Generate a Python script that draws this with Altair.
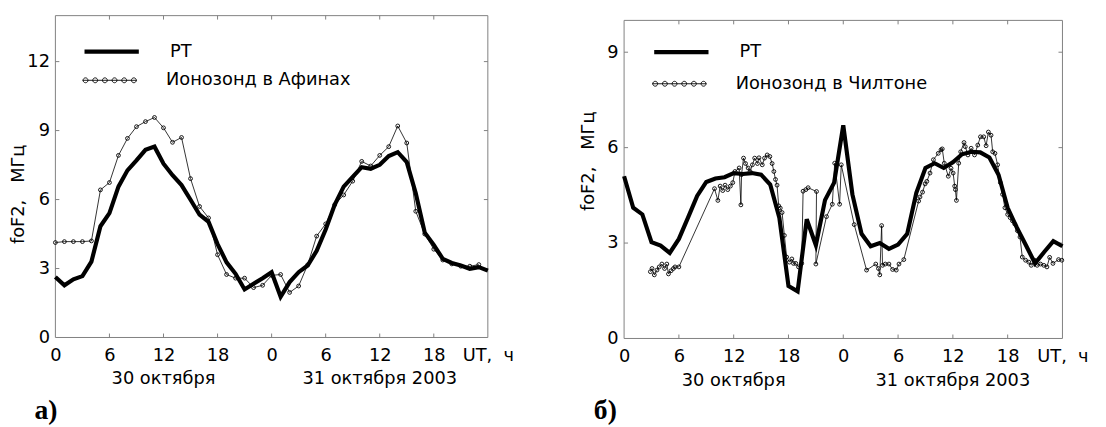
import altair as alt
import pandas as pd

# ---------------- data ----------------
HOURS = list(range(49))

# panel a: Athens
rt_a = [2.63, 2.27, 2.53, 2.67, 3.3, 4.84, 5.41, 6.56, 7.27, 7.7, 8.16, 8.3, 7.56, 7.06,
        6.63, 5.99, 5.34, 5.03, 4.06, 3.27, 2.77, 2.09, 2.34, 2.58, 2.84, 1.77, 2.41, 2.84,
        3.13, 3.77, 4.7, 5.77, 6.56, 6.99, 7.41, 7.34, 7.51, 7.89, 8.06, 7.63, 6.27, 4.56,
        4.03, 3.42, 3.24, 3.13, 2.99, 3.06, 2.91]
ion_a_h = list(range(48))
ion_a_f = [4.13, 4.17, 4.17, 4.17, 4.2, 6.42, 6.74, 7.92, 8.66, 9.17, 9.39, 9.57, 9.12, 8.49,
           8.70, 6.91, 5.70, 5.2, 3.6, 2.74, 2.58, 2.58, 2.17, 2.27, 2.7, 2.74, 1.96, 2.24,
           3.16, 4.41, 4.94, 5.77, 6.2, 6.8, 7.66, 7.46, 7.92, 8.3, 9.2, 8.46, 5.49, 4.5,
           3.84, 3.37, 3.2, 3.1, 3.1, 3.17]

# panel b: Chilton
rt_b = [5.1, 4.11, 3.9, 3.03, 2.92, 2.69, 3.13, 3.8, 4.48, 4.92, 5.03, 5.07, 5.2, 5.17,
        5.2, 5.15, 4.84, 3.8, 1.65, 1.48, 3.75, 2.93, 4.35, 4.9, 6.7, 4.53, 3.29, 2.9,
        3.0, 2.82, 2.95, 3.29, 4.58, 5.36, 5.51, 5.36, 5.54, 5.79, 5.87, 5.85, 5.69, 5.15,
        4.11, 3.49, 2.93, 2.36, 2.72, 3.06, 2.9]
ion_b_h = [2.88, 3.06, 3.31, 3.6, 3.85, 4.14, 4.43, 4.68, 4.86, 5.15, 5.4, 5.58, 6.0,
           9.9, 10.27, 10.52, 10.8, 11.06, 11.35, 11.64, 11.9, 12.14, 12.6,
           12.79, 12.86, 13.08, 13.3, 13.58, 13.8, 14.05, 14.3, 14.6, 14.77,
           15.13, 15.38, 15.67, 15.96, 16.21, 16.4, 16.58, 16.75, 16.93, 17.1,
           17.3, 17.55, 17.8, 18.1, 18.37, 18.55, 18.8, 19.1, 19.45, 19.6,
           19.9, 20.15, 21.07, 21.0, 22.16, 22.8, 23.06, 23.6, 23.78,
           25.2, 26.55, 27.56, 27.85, 28.0, 28.2, 28.3, 28.6, 29.0, 29.4, 29.8, 30.1, 30.63,
           32.25, 32.4, 32.68, 32.96, 33.15, 33.5, 33.87, 34.4, 34.7, 34.84,
           35.06, 35.5, 35.8, 36.03, 36.2, 36.28, 36.39, 36.64, 36.86, 37.22,
           37.36, 37.65, 38.0, 38.37, 38.73, 39.02, 39.38, 39.64, 39.89, 40.18,
           40.36, 40.61, 40.9, 41.2, 41.44, 41.7, 42.0, 42.27, 42.52, 42.77,
           43.06, 43.35, 43.6, 43.96, 44.32, 44.58, 44.94, 45.23, 45.6, 45.96,
           46.3, 46.6, 46.96, 47.57, 47.93]
ion_b_f = [2.1, 2.2, 2.0, 2.15, 2.25, 2.34, 2.2, 2.34, 2.03, 2.13, 2.2, 2.25, 2.25,
           4.71, 4.34, 4.79, 4.65, 4.82, 4.68, 4.79, 4.9, 5.25, 5.36,
           4.2, 5.15, 5.67, 5.5, 5.36, 5.25, 5.46, 5.67, 5.5, 5.68,
           5.46, 5.67, 5.77, 5.72, 5.5, 5.25, 5.0, 4.82, 4.17, 4.1,
           3.96, 3.24, 2.56, 2.4, 2.5, 2.36, 2.36, 2.25, 2.36, 4.63,
           4.68, 4.74, 4.62, 2.34, 3.83, 4.22, 5.51, 4.22, 5.46,
           3.58, 2.15, 2.34, 2.2, 2.0, 3.55, 2.3, 2.34, 2.34, 2.17, 2.15, 2.34, 2.48,
           4.32, 4.45, 4.6, 4.86, 4.94, 5.2, 5.62, 5.82, 5.93, 5.96,
           5.51, 5.1, 5.35, 5.2, 4.79, 4.68, 4.34, 5.51, 5.87, 6.16,
           6.03, 5.77, 5.98, 5.77, 6.08, 6.34, 6.34, 6.06, 6.49, 6.39,
           5.87, 5.82, 5.46, 4.9, 4.53, 4.11, 3.9, 3.8, 3.7, 3.6,
           3.39, 3.19, 2.56, 2.46, 2.4, 2.3, 2.46, 2.3, 2.34, 2.3,
           2.25, 2.55, 2.36, 2.48, 2.46]

x_tick_vals = [0, 6, 12, 18, 24, 30, 36, 42, 48]
inner_x_ticks = [6, 12, 18, 24, 30, 36, 42]
y_ticks_a = [0, 3, 6, 9, 12]
y_ticks_b = [0, 3, 6, 9]
day_labels = ["30 октября", "31 октября 2003"]
day_pos = [12, 36]
series_rt = "РТ"
ion_names = ["Ионозонд в Афинах", "Ионозонд в Чилтоне"]
letters = ["а)", "б)"]
y_title = "foF2,\u00a0\u00a0 МГц"
ut_label = "UT,\u00a0 ч"

# ---------------- style ----------------
GREY = "#808080"
FONT = "DejaVu Sans"
FS = 18
RT_SYMBOL = "M-1,0H1"


def dots_path(n=6, r=0.09, span=0.89):
    parts = ["M-1,0H1"]
    for k in range(n):
        cx = -span + 2 * span * k / (n - 1)
        parts.append(f"M{cx - r:.3f},0a{r},{r} 0 1,0 {2 * r:.3f},0a{r},{r} 0 1,0 {-2 * r:.3f},0")
    return "".join(parts)


def panel(rt_f, ion_h, ion_f, ion_name, yticks, ydom_max, frame_top, W, H,
          title_x, title_y, leg_x, leg_y1, leg_y2, letter, letter_x, day_y, anchor):
    pyu = H / ydom_max
    top_px = H - frame_top * pyu
    xs = alt.Scale(domain=[0, 48], nice=False, zero=False)
    ys = alt.Scale(domain=[0, ydom_max], nice=False, zero=True)
    xaxis = alt.Axis(values=x_tick_vals,
                     labelExpr=f"datum.value == 48 ? '{ut_label}' : '' + (datum.value % 24)",
                     domain=False, ticks=False, grid=False, labelFontSize=FS,
                     labelPadding=9, labelFlush=False, labelOverlap=False, title=None)
    yaxis = alt.Axis(values=yticks, domain=False, ticks=False, grid=False, labelFontSize=FS,
                     labelPadding=6, labelFlush=False, labelOverlap=False,
                     title=y_title, titleFontSize=FS, titleFontWeight="normal",
                     titleX=title_x, titleY=title_y, titleBaseline="middle",
                     titleAlign="center", titleAngle=270, titlePadding=0)

    def X(f):
        return alt.X(f, type="quantitative", scale=xs, axis=xaxis)

    def Y(f):
        return alt.Y(f, type="quantitative", scale=ys, axis=yaxis)

    rt_df = pd.DataFrame({"h": HOURS, "f": rt_f, "series": series_rt})
    ion_df = pd.DataFrame({"h": ion_h, "f": ion_f, "series": ion_name,
                           "i": list(range(len(ion_h)))})
    one = pd.DataFrame({"k": [0]})

    # invisible layout anchor fixing the left extent of the chart
    anch = alt.Chart(one).mark_rule(opacity=0, strokeWidth=0).encode(
        x=alt.value(anchor), y=alt.value(0), y2=alt.value(10))
    frame = alt.Chart(one).mark_rect(fillOpacity=0, stroke=GREY, strokeWidth=1).encode(
        x=alt.value(0), x2=alt.value(W), y=alt.value(top_px), y2=alt.value(H))
    xt = pd.DataFrame({"t": inner_x_ticks})
    yt = pd.DataFrame({"t": [v for v in yticks if 0 < v < frame_top]})
    tb = alt.Chart(xt).mark_rule(color=GREY, strokeWidth=1).encode(
        x=X("t"), y=alt.value(H), y2=alt.value(H - 4))
    tt = alt.Chart(xt).mark_rule(color=GREY, strokeWidth=1).encode(
        x=X("t"), y=alt.value(top_px), y2=alt.value(top_px + 4))
    tl = alt.Chart(yt).mark_rule(color=GREY, strokeWidth=1).encode(
        y=Y("t"), x=alt.value(0), x2=alt.value(4))
    tr = alt.Chart(yt).mark_rule(color=GREY, strokeWidth=1).encode(
        y=Y("t"), x=alt.value(W), x2=alt.value(W - 4))

    ion_line = alt.Chart(ion_df).mark_line(color="black", strokeWidth=0.8).encode(
        x=X("h"), y=Y("f"), order="i:Q",
        opacity=alt.Opacity("series:O", scale=alt.Scale(domain=[ion_name], range=[1]),
                            legend=alt.Legend(orient="none", legendX=leg_x, legendY=leg_y2,
                                              title=None, symbolType=dots_path(),
                                              symbolSize=3025, symbolStrokeWidth=0.9,
                                              symbolStrokeColor="black",
                                              symbolFillColor="transparent",
                                              labelFontSize=FS, labelFont=FONT,
                                              labelColor="black", labelOffset=29,
                                              labelLimit=500, padding=0)))
    ion_pts = alt.Chart(ion_df).mark_point(shape="circle", filled=False, color="black",
                                           size=15, strokeWidth=0.9, opacity=1).encode(
        x=X("h"), y=Y("f"))
    rt_line = alt.Chart(rt_df).mark_line(strokeWidth=4.2).encode(
        x=X("h"), y=Y("f"),
        color=alt.Color("series:N", scale=alt.Scale(domain=[series_rt], range=["black"]),
                        legend=alt.Legend(orient="none", legendX=leg_x, legendY=leg_y1,
                                          title=None, symbolType=RT_SYMBOL,
                                          symbolSize=3025, symbolStrokeWidth=4.2,
                                          labelFontSize=FS, labelFont=FONT,
                                          labelColor="black", labelOffset=29,
                                          labelLimit=500, padding=0)))
    days = alt.Chart(pd.DataFrame({"p": day_pos, "lab": day_labels})).mark_text(
        fontSize=FS, font=FONT, baseline="middle", align="center", color="black").encode(
        x=X("p"), y=alt.value(day_y), text="lab:N")
    let = alt.Chart(pd.DataFrame({"lab": [letter]})).mark_text(
        font="Liberation Serif", fontWeight="bold", fontSize=28, baseline="middle",
        align="center", color="black").encode(
        x=alt.value(letter_x), y=alt.value(401), text="lab:N")

    return alt.layer(anch, frame, tb, tt, tl, tr, ion_line, ion_pts, rt_line, days,
                     let).properties(width=W, height=H)


left = panel(rt_a, ion_a_h, ion_a_f, ion_names[0], y_ticks_a, 14.0, 14.0, 438, 326,
             -37, 180.5, 27, 6.5, 37.5, letters[0], -9.5, 368, -48)
right = panel(rt_b, ion_b_h, ion_b_f, ion_names[1], y_ticks_b, 10.15, 10.0, 444, 327,
              -36, 147, 28, 7, 41, letters[1], -19, 370, -40)

chart = alt.hconcat(left, right, spacing=138, bounds="flush").resolve_scale(
    x="independent", y="independent", color="independent", opacity="independent"
).resolve_legend(color="independent", opacity="independent").properties(
    padding={"left": 0, "top": 4, "right": 10, "bottom": 4}
).configure_view(stroke=None).configure_axis(
    labelColor="black", titleColor="black", labelFont=FONT, titleFont=FONT)

chart.save("out.html", embed_options={"renderer": "svg", "actions": False})
